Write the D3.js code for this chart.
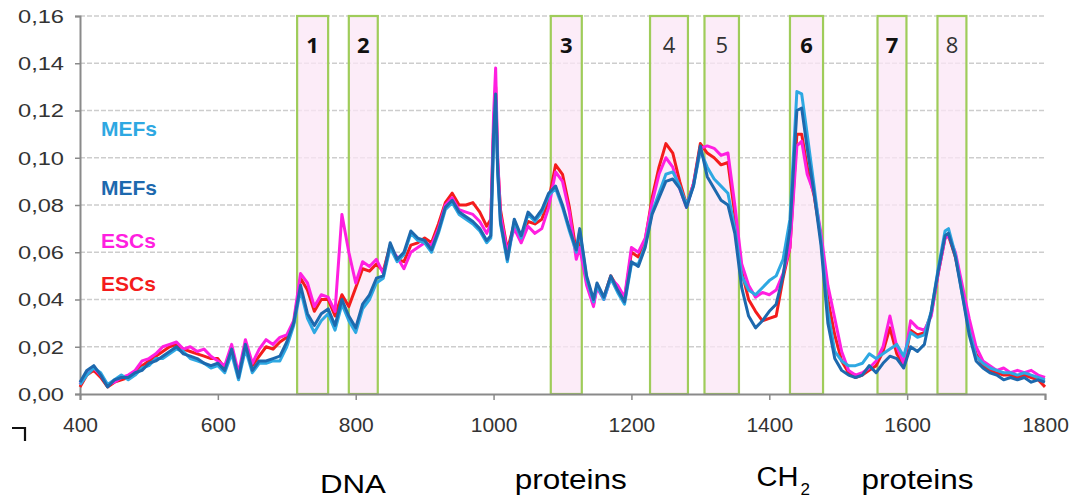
<!DOCTYPE html>
<html>
<head>
<meta charset="utf-8">
<script src="https://cdn.jsdelivr.net/npm/d3@7"></script>
<style>
  html, body { margin: 0; padding: 0; background: #ffffff; }
  svg { display: block; }
</style>
</head>
<body>
<svg id="chart" width="1070" height="499"></svg>
<script>
// Raman shift (cm-1) sample positions shared by all spectra
const wavenumbers = [
  400, 410, 420, 430, 440, 450, 460, 470, 480, 490,
  500, 510, 520, 530, 540, 550, 560, 570, 580, 590,
  600, 610, 620, 630, 640, 650, 660, 670, 680, 690,
  700, 710, 720, 730, 740, 750, 760, 770, 780, 790,
  800, 810, 820, 830, 840, 850, 860, 870, 880, 890,
  900, 910, 920, 930, 940, 950, 960, 970, 980, 990,
  996, 1000, 1003, 1006, 1010, 1020, 1030, 1040, 1050, 1060,
  1070, 1080, 1090, 1100, 1110, 1120, 1125, 1135, 1145, 1150,
  1160, 1170, 1180, 1190, 1200, 1210, 1220, 1230, 1240, 1250,
  1260, 1270, 1280, 1290, 1300, 1310, 1320, 1330, 1340, 1350,
  1360, 1370, 1380, 1390, 1400, 1410, 1420, 1430, 1440, 1447,
  1455, 1465, 1475, 1485, 1495, 1505, 1515, 1525, 1535, 1545,
  1555, 1565, 1575, 1585, 1595, 1605, 1615, 1625, 1635, 1645,
  1655, 1660, 1670, 1680, 1690, 1700, 1710, 1720, 1730, 1740,
  1750, 1760, 1770, 1780, 1790, 1800
];

// MEFs, first sample (light blue)
const mefsLight = [
  .004, .008, .011, .009, .004, .006, .008, .006, .008, .011,
  .012, .015, .015, .017, .019, .018, .015, .014, .013, .011,
  .012, .009, .017, .006, .019, .009, .013, .013, .014, .014,
  .020, .029, .044, .032, .026, .031, .034, .027, .038, .031,
  .026, .036, .040, .047, .049, .062, .056, .059, .068, .065,
  .064, .060, .068, .078, .081, .076, .074, .072, .069, .064,
  .066, .105, .125, .093, .072, .056, .073, .066, .076, .073,
  .077, .084, .087, .079, .069, .060, .069, .049, .039, .046,
  .040, .049, .043, .038, .055, .055, .063, .077, .085, .093,
  .094, .088, .080, .088, .103, .096, .091, .088, .085, .070,
  .050, .044, .042, .045, .048, .050, .057, .074, .128, .127,
  .110, .088, .065, .035, .018, .014, .012, .012, .013, .017,
  .015, .017, .019, .021, .016, .026, .024, .025, .035, .053,
  .069, .070, .059, .042, .027, .016, .013, .011, .010, .009,
  .009, .008, .009, .008, .007, .006
];

// MEFs, second sample (dark blue)
const mefsDark = [
  .005, .010, .012, .008, .003, .006, .007, .007, .009, .010,
  .013, .014, .016, .018, .020, .017, .016, .015, .013, .012,
  .013, .010, .019, .007, .021, .010, .014, .014, .015, .016,
  .022, .030, .046, .034, .029, .034, .036, .029, .040, .033,
  .028, .038, .042, .049, .050, .064, .057, .060, .069, .066,
  .065, .061, .069, .079, .082, .077, .075, .073, .070, .065,
  .067, .110, .127, .095, .073, .057, .074, .067, .077, .074,
  .078, .085, .088, .080, .070, .061, .070, .050, .040, .047,
  .041, .050, .044, .039, .056, .054, .062, .076, .083, .090,
  .091, .087, .079, .088, .105, .092, .087, .082, .080, .068,
  .045, .033, .028, .031, .035, .038, .050, .070, .120, .121,
  .104, .085, .063, .030, .015, .010, .008, .007, .008, .012,
  .009, .013, .016, .015, .011, .020, .018, .021, .035, .052,
  .067, .068, .058, .042, .025, .014, .011, .009, .008, .006,
  .007, .006, .007, .005, .006, .005
];

// ESCs, first sample (magenta)
const escsMagenta = [
  .004, .009, .011, .008, .004, .005, .007, .008, .010, .014,
  .015, .017, .020, .021, .022, .019, .020, .018, .019, .016,
  .014, .012, .021, .009, .023, .013, .019, .023, .021, .024,
  .025, .031, .051, .047, .037, .042, .041, .035, .076, .060,
  .047, .056, .054, .057, .051, .062, .058, .053, .060, .062,
  .064, .063, .070, .080, .083, .078, .077, .076, .073, .068,
  .072, .118, .138, .100, .076, .060, .070, .064, .071, .068,
  .070, .079, .094, .090, .077, .057, .062, .046, .037, .045,
  .040, .049, .046, .041, .062, .060, .066, .081, .093, .100,
  .096, .087, .079, .089, .104, .105, .104, .101, .102, .080,
  .055, .046, .041, .043, .042, .044, .051, .062, .105, .107,
  .093, .085, .068, .046, .032, .018, .010, .008, .009, .011,
  .014, .020, .033, .020, .013, .031, .028, .027, .033, .051,
  .066, .067, .060, .046, .032, .020, .014, .012, .010, .011,
  .009, .010, .009, .010, .008, .007
];

// ESCs, second sample (red)
const escsRed = [
  .003, .008, .010, .007, .003, .005, .006, .007, .009, .012,
  .014, .016, .018, .020, .021, .019, .018, .017, .016, .015,
  .015, .011, .019, .008, .020, .012, .016, .020, .019, .022,
  .024, .030, .049, .044, .035, .040, .040, .033, .042, .037,
  .045, .053, .052, .055, .052, .063, .057, .056, .063, .064,
  .066, .064, .072, .081, .085, .080, .080, .081, .077, .071,
  .074, .112, .130, .098, .078, .061, .072, .066, .073, .072,
  .074, .082, .097, .093, .079, .060, .064, .048, .038, .046,
  .041, .050, .045, .040, .060, .058, .065, .083, .096, .106,
  .102, .090, .080, .089, .106, .102, .100, .097, .098, .076,
  .052, .040, .035, .031, .032, .033, .049, .062, .110, .110,
  .096, .084, .066, .040, .025, .014, .009, .007, .008, .010,
  .012, .018, .028, .017, .012, .027, .025, .026, .034, .051,
  .066, .067, .058, .044, .029, .017, .012, .010, .009, .008,
  .008, .007, .008, .007, .006, .003
];

// Axis ticks
const xTicks = [400, 600, 800, 1000, 1200, 1400, 1600, 1800];
const yTicks = [0, 0.02, 0.04, 0.06, 0.08, 0.10, 0.12, 0.14, 0.16];

// Highlighted bands (cm-1)
const bandStart = [715, 790, 1083, 1227, 1306, 1430, 1557, 1644];
const bandEnd   = [760, 832, 1128, 1282, 1356, 1478, 1599, 1686];
const bandLabels = ["1", "2", "3", "4", "5", "6", "7", "8"];
const bandBold = [true, true, true, false, false, true, true, false];

// Series legend (drawn as coloured words at the left)
const seriesNames = ["MEFs", "MEFs", "ESCs", "ESCs"];
const seriesColors = ["#2ea8e2", "#1d69ae", "#ff1fe0", "#f41c1c"];

// Assignment captions under the axis (centre position in cm-1)
const captionWords = ["DNA", "proteins", "CH", "proteins"];
const captionAt = [796, 1112, 1412, 1615];

// ---------------------------------------------------------------
const svg = d3.select("#chart");
const x = d3.scaleLinear().domain([400, 1800]).range([80, 1045]);
const y = d3.scaleLinear().domain([0, 0.16]).range([394, 16]);
const fmt = v => d3.format(".2f")(v).replace(".", ",");

// horizontal dashed grid
svg.append("g")
  .selectAll("line")
  .data(yTicks.filter(t => t > 0))
  .join("line")
  .attr("x1", x(400)).attr("x2", x(1800))
  .attr("y1", d => y(d)).attr("y2", d => y(d))
  .attr("stroke", "#cdcdcd")
  .attr("stroke-width", 1.6)
  .attr("stroke-dasharray", "5,2");

// band rectangles
const bandData = bandStart.map((s, i) => ({ s, e: bandEnd[i], label: bandLabels[i], bold: bandBold[i] }));
const bands = svg.append("g");
bands.selectAll("rect")
  .data(bandData)
  .join("rect")
  .attr("x", d => x(d.s))
  .attr("y", y(0.16))
  .attr("width", d => x(d.e) - x(d.s))
  .attr("height", y(0) - y(0.16))
  .attr("fill", "#fbe6f6")
  .attr("fill-opacity", 0.75)
  .attr("stroke", "#9fcc5a")
  .attr("stroke-width", 2.2);

// axes
const yAxis = svg.append("g")
  .attr("transform", `translate(${x(400)},0)`)
  .call(d3.axisLeft(y).tickValues(yTicks).tickSize(5).tickFormat(fmt));
yAxis.select(".domain").attr("stroke", "#8a8a8a").attr("stroke-width", 2);
yAxis.selectAll(".tick line").attr("stroke", "#8a8a8a").attr("stroke-width", 1.5);
yAxis.selectAll(".tick text")
  .attr("x", -16)
  .attr("dy", "0.36em")
  .attr("font-family", "'Liberation Sans', Arial, sans-serif")
  .attr("font-size", 18)
  .attr("fill", "#333")
  .attr("textLength", 46)
  .attr("lengthAdjust", "spacingAndGlyphs");

const xAxis = svg.append("g")
  .attr("transform", `translate(0,${y(0)})`)
  .call(d3.axisBottom(x).tickValues(xTicks).tickSize(6).tickFormat(d3.format("d")));
xAxis.select(".domain").attr("stroke", "#8a8a8a").attr("stroke-width", 2);
xAxis.selectAll(".tick line").attr("stroke", "#8a8a8a").attr("stroke-width", 1.5);
xAxis.selectAll(".tick text")
  .attr("y", 38)
  .attr("dy", 0)
  .attr("font-family", "'Liberation Sans', Arial, sans-serif")
  .attr("font-size", 21)
  .attr("fill", "#333");
svg.selectAll(".domain").attr("fill", "none");

// spectra
const line = d3.line()
  .x((d, i) => x(wavenumbers[i]))
  .y(d => y(d))
  .curve(d3.curveLinear);

const drawOrder = [
  { values: escsRed, color: seriesColors[3] },
  { values: escsMagenta, color: seriesColors[2] },
  { values: mefsLight, color: seriesColors[0] },
  { values: mefsDark, color: seriesColors[1] }
];
svg.append("g")
  .selectAll("path")
  .data(drawOrder)
  .join("path")
  .attr("d", d => line(d.values))
  .attr("fill", "none")
  .attr("stroke", d => d.color)
  .attr("stroke-width", 3)
  .attr("stroke-linejoin", "round");

// band numbers
bands.selectAll("text")
  .data(bandData)
  .join("text")
  .attr("x", d => (x(d.s) + x(d.e)) / 2)
  .attr("y", 53)
  .attr("text-anchor", "middle")
  .attr("font-family", "'Open Sans', 'Liberation Sans', sans-serif")
  .attr("font-size", 22)
  .attr("font-weight", d => d.bold ? "bold" : "normal")
  .attr("fill", d => d.bold ? "#111" : "#333")
  .text(d => d.label);

// series names
const nameBaselines = [136, 195, 248, 291];
svg.append("g")
  .selectAll("text")
  .data(seriesNames)
  .join("text")
  .attr("x", 101)
  .attr("y", (d, i) => nameBaselines[i])
  .attr("font-family", "'Liberation Sans', Arial, sans-serif")
  .attr("font-weight", "bold")
  .attr("font-size", 21)
  .attr("fill", (d, i) => seriesColors[i])
  .text(d => d);

// captions below the axis
const capY = [493, 489, 486, 489];
const capSize = [26, 27, 27, 27];
const capLen = [66, 112, 42, 112];
const caps = svg.append("g")
  .attr("font-family", "'Liberation Sans', Arial, sans-serif")
  .attr("fill", "#000");
captionWords.forEach((w, i) => {
  caps.append("text")
    .attr("x", x(captionAt[i]) - capLen[i] / 2)
    .attr("y", capY[i])
    .attr("font-size", capSize[i])
    .attr("textLength", capLen[i])
    .attr("lengthAdjust", "spacingAndGlyphs")
    .text(w);
  if (w === "CH") {
    caps.append("text")
      .attr("x", x(captionAt[i]) + capLen[i] / 2 + 2)
      .attr("y", capY[i] + 9)
      .attr("font-size", 17)
      .text("2");
  }
});

// small corner bracket at the lower left
svg.append("path")
  .attr("d", "M12,428 L25,428 L25,441")
  .attr("fill", "none")
  .attr("stroke", "#111")
  .attr("stroke-width", 2.2);
</script>
</body>
</html>
